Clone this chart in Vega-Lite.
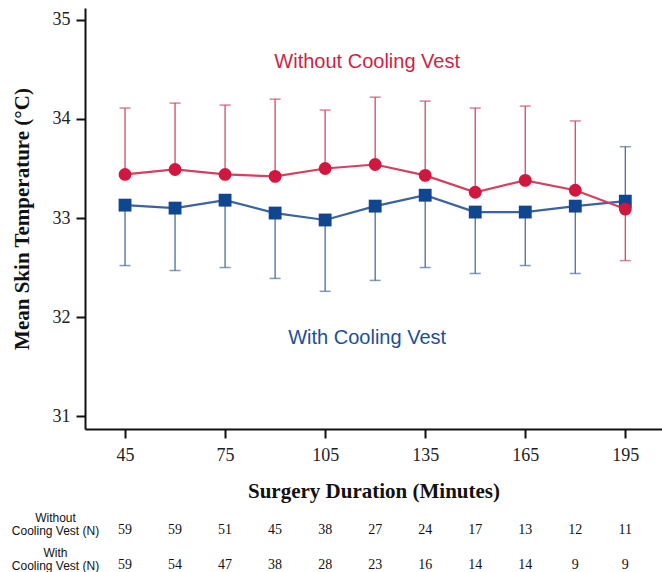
{
  "$schema": "https://vega.github.io/schema/vega-lite/v6.json",
  "padding": {"left": 11, "top": 8, "right": 0, "bottom": 0},
  "background": "white",
  "spacing": 5,
  "config": {"view": {"stroke": null}},
  "datasets": {
    "series": [
      {"group": "With Cooling Vest", "minute": 45, "mean": 33.13, "bar": 32.52},
      {"group": "With Cooling Vest", "minute": 60, "mean": 33.10, "bar": 32.47},
      {"group": "With Cooling Vest", "minute": 75, "mean": 33.18, "bar": 32.50},
      {"group": "With Cooling Vest", "minute": 90, "mean": 33.05, "bar": 32.39},
      {"group": "With Cooling Vest", "minute": 105, "mean": 32.98, "bar": 32.26},
      {"group": "With Cooling Vest", "minute": 120, "mean": 33.12, "bar": 32.37},
      {"group": "With Cooling Vest", "minute": 135, "mean": 33.23, "bar": 32.50},
      {"group": "With Cooling Vest", "minute": 150, "mean": 33.06, "bar": 32.44},
      {"group": "With Cooling Vest", "minute": 165, "mean": 33.06, "bar": 32.52},
      {"group": "With Cooling Vest", "minute": 180, "mean": 33.12, "bar": 32.44},
      {"group": "With Cooling Vest", "minute": 195, "mean": 33.17, "bar": 33.72},
      {"group": "Without Cooling Vest", "minute": 45, "mean": 33.44, "bar": 34.11},
      {"group": "Without Cooling Vest", "minute": 60, "mean": 33.49, "bar": 34.16},
      {"group": "Without Cooling Vest", "minute": 75, "mean": 33.44, "bar": 34.14},
      {"group": "Without Cooling Vest", "minute": 90, "mean": 33.42, "bar": 34.20},
      {"group": "Without Cooling Vest", "minute": 105, "mean": 33.50, "bar": 34.09},
      {"group": "Without Cooling Vest", "minute": 120, "mean": 33.54, "bar": 34.22},
      {"group": "Without Cooling Vest", "minute": 135, "mean": 33.43, "bar": 34.18},
      {"group": "Without Cooling Vest", "minute": 150, "mean": 33.26, "bar": 34.11},
      {"group": "Without Cooling Vest", "minute": 165, "mean": 33.38, "bar": 34.13},
      {"group": "Without Cooling Vest", "minute": 180, "mean": 33.28, "bar": 33.98},
      {"group": "Without Cooling Vest", "minute": 195, "mean": 33.09, "bar": 32.57}
    ],
    "labels": [
      {"group": "Without Cooling Vest", "minute": 117.6, "temp": 34.57},
      {"group": "With Cooling Vest", "minute": 117.6, "temp": 31.79}
    ],
    "counts": [
      {"row": "Without", "minute": 45, "n": 59},
      {"row": "Without", "minute": 60, "n": 59},
      {"row": "Without", "minute": 75, "n": 51},
      {"row": "Without", "minute": 90, "n": 45},
      {"row": "Without", "minute": 105, "n": 38},
      {"row": "Without", "minute": 120, "n": 27},
      {"row": "Without", "minute": 135, "n": 24},
      {"row": "Without", "minute": 150, "n": 17},
      {"row": "Without", "minute": 165, "n": 13},
      {"row": "Without", "minute": 180, "n": 12},
      {"row": "Without", "minute": 195, "n": 11},
      {"row": "With", "minute": 45, "n": 59},
      {"row": "With", "minute": 60, "n": 54},
      {"row": "With", "minute": 75, "n": 47},
      {"row": "With", "minute": 90, "n": 38},
      {"row": "With", "minute": 105, "n": 28},
      {"row": "With", "minute": 120, "n": 23},
      {"row": "With", "minute": 135, "n": 16},
      {"row": "With", "minute": 150, "n": 14},
      {"row": "With", "minute": 165, "n": 14},
      {"row": "With", "minute": 180, "n": 9},
      {"row": "With", "minute": 195, "n": 9}
    ]
  },
  "vconcat": [
    {
      "width": 577,
      "height": 421,
      "data": {"name": "series"},
      "encoding": {
        "x": {
          "field": "minute", "type": "quantitative",
          "scale": {"domain": [33, 206], "nice": false, "zero": false},
          "axis": {
            "values": [45, 75, 105, 135, 165, 195],
            "title": "Surgery Duration (Minutes)",
            "titleFont": "Liberation Serif", "titleFontSize": 21, "titleFontWeight": "bold", "titleColor": "#111",
            "titlePadding": 16,
            "labelFont": "Liberation Serif", "labelFontSize": 18, "labelColor": "#222", "labelPadding": 8,
            "tickSize": 9, "tickWidth": 2, "tickColor": "#111",
            "domainColor": "#111", "domainWidth": 2, "grid": false
          }
        }
      },
      "layer": [
        {
          "mark": {"type": "rule", "strokeWidth": 1.3},
          "encoding": {
            "y": {
              "field": "mean", "type": "quantitative",
              "scale": {"domain": [30.87, 35.12], "nice": false, "zero": false},
              "axis": {
                "values": [31, 32, 33, 34, 35],
                "format": "d",
                "title": "Mean Skin Temperature (°C)",
                "titleFont": "Liberation Serif", "titleFontSize": 21, "titleFontWeight": "bold", "titleColor": "#111",
                "titlePadding": 20,
                "labelFont": "Liberation Serif", "labelFontSize": 18, "labelColor": "#222", "labelPadding": 6,
                "tickSize": 9, "tickWidth": 2, "tickColor": "#111",
                "domainColor": "#111", "domainWidth": 2, "grid": false
              }
            },
            "y2": {"field": "bar"},
            "color": {"field": "group", "type": "nominal", "scale": {"domain": ["Without Cooling Vest", "With Cooling Vest"], "range": ["#cf4a66", "#4a6ea3"]}, "legend": null}
          }
        },
        {
          "mark": {"type": "tick", "orient": "horizontal", "size": 11, "thickness": 1.5},
          "encoding": {
            "y": {"field": "bar", "type": "quantitative"},
            "color": {"field": "group", "type": "nominal", "scale": {"domain": ["Without Cooling Vest", "With Cooling Vest"], "range": ["#cf4a66", "#4a6ea3"]}, "legend": null}
          }
        },
        {
          "mark": {"type": "line", "strokeWidth": 2.2},
          "encoding": {
            "y": {"field": "mean", "type": "quantitative"},
            "color": {"field": "group", "type": "nominal", "scale": {"domain": ["Without Cooling Vest", "With Cooling Vest"], "range": ["#d4405f", "#3a63a1"]}, "legend": null}
          }
        },
        {
          "mark": {"type": "point", "filled": true, "opacity": 1, "size": 165},
          "encoding": {
            "y": {"field": "mean", "type": "quantitative"},
            "shape": {"field": "group", "type": "nominal", "scale": {"domain": ["Without Cooling Vest", "With Cooling Vest"], "range": ["circle", "square"]}, "legend": null},
            "color": {"field": "group", "type": "nominal", "scale": {"domain": ["Without Cooling Vest", "With Cooling Vest"], "range": ["#d2173f", "#10458f"]}, "legend": null}
          }
        },
        {
          "data": {"name": "labels"},
          "mark": {"type": "text", "font": "Liberation Sans", "fontSize": 20, "align": "center", "baseline": "middle"},
          "encoding": {
            "y": {"field": "temp", "type": "quantitative"},
            "text": {"field": "group"},
            "color": {"field": "group", "type": "nominal", "scale": {"domain": ["Without Cooling Vest", "With Cooling Vest"], "range": ["#cf1f45", "#1d4f96"]}, "legend": null}
          }
        }
      ],
      "resolve": {"scale": {"color": "independent"}}
    },
    {
      "width": 577,
      "height": 70,
      "data": {"name": "counts"},
      "mark": {"type": "text", "font": "Liberation Serif", "fontSize": 14, "color": "#111", "align": "center", "baseline": "middle", "dy": 6.5},
      "encoding": {
        "x": {"field": "minute", "type": "quantitative", "scale": {"domain": [33, 206], "nice": false, "zero": false}, "axis": null},
        "y": {
          "field": "row", "type": "nominal",
          "scale": {"domain": ["Without", "With"], "paddingInner": 0, "paddingOuter": 0},
          "axis": {
            "title": null, "domain": false, "ticks": false,
            "labelExpr": "[datum.value, 'Cooling Vest (N)']",
            "labelAlign": "center", "labelBaseline": "middle", "labelPadding": 30, "labelOffset": -6.5,
            "labelFont": "Liberation Sans", "labelFontSize": 12, "labelLineHeight": 13, "labelColor": "#111"
          }
        },
        "text": {"field": "n", "type": "quantitative"}
      }
    }
  ]
}
